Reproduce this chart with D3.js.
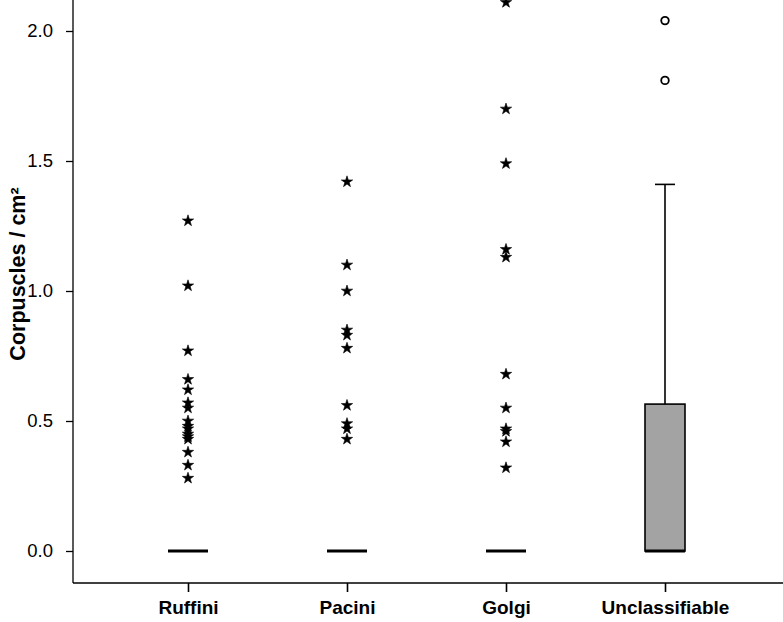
<!DOCTYPE html>
<html><head><meta charset="utf-8">
<script src="https://cdn.jsdelivr.net/npm/d3@7"></script>
<style>body{margin:0;background:#fff}svg{display:block}</style>
</head><body>
<script>
const categories = ["Ruffini", "Pacini", "Golgi", "Unclassifiable"];
// box statistics
const q1Values = [0, 0, 0, 0];
const medianValues = [0, 0, 0, 0];
const q3Values = [0, 0, 0, 0.565];
const whiskerLow = [0, 0, 0, 0];
const whiskerHigh = [0, 0, 0, 1.41];
// extreme outliers (stars)
const ruffiniExtremes = [1.27, 1.02, 0.77, 0.66, 0.62, 0.57, 0.55, 0.50, 0.48, 0.47, 0.45, 0.44, 0.43, 0.38, 0.33, 0.28];
const paciniExtremes = [1.42, 1.10, 1.00, 0.85, 0.83, 0.78, 0.56, 0.49, 0.47, 0.43];
const golgiExtremes = [2.11, 1.70, 1.49, 1.16, 1.13, 0.68, 0.55, 0.47, 0.46, 0.42, 0.32];
const unclassExtremes = [];
// mild outliers (circles)
const unclassOutliers = [2.04, 1.81];
const yTicks = [0, 0.5, 1.0, 1.5, 2.0];

const W = 783, H = 622;
const FONT = "Arial, 'Liberation Sans', sans-serif";
const svg = d3.select("body").append("svg").attr("width", W).attr("height", H);

const axisLeftX = 73, axisBottomY = 583;
const y = d3.scaleLinear().domain([0, 2]).range([551, 31]);
const x = d3.scalePoint().domain(categories).range([188, 665]);

// y axis
const yAxis = svg.append("g").attr("transform", `translate(${axisLeftX},0)`)
  .call(d3.axisLeft(y).tickValues(yTicks).tickFormat(d3.format(".1f")).tickSize(7).tickSizeOuter(0));
yAxis.select(".domain").remove();
yAxis.selectAll("line").attr("stroke", "#000").attr("stroke-width", 1.3);
yAxis.selectAll("text").attr("font-family", FONT).attr("font-size", 18.5).attr("fill", "#000").attr("x", -20);
svg.append("line").attr("x1", axisLeftX).attr("x2", axisLeftX).attr("y1", 0).attr("y2", axisBottomY).attr("stroke", "#000").attr("stroke-width", 1.3);

// x axis
const xAxis = svg.append("g").attr("transform", `translate(0,${axisBottomY})`)
  .call(d3.axisBottom(x).tickSize(9).tickSizeOuter(0));
xAxis.select(".domain").remove();
xAxis.selectAll("line").attr("stroke", "#000").attr("stroke-width", 1.6);
xAxis.selectAll("text").attr("font-family", FONT).attr("font-size", 19).attr("font-weight", "bold").attr("fill", "#000").attr("y", 18);
svg.append("line").attr("x1", axisLeftX).attr("x2", W).attr("y1", axisBottomY).attr("y2", axisBottomY).attr("stroke", "#000").attr("stroke-width", 1.3);

// y label
svg.append("text").attr("transform", "translate(25,274) rotate(-90)")
  .attr("text-anchor", "middle").attr("font-family", FONT)
  .attr("font-size", 21.5).attr("font-weight", "bold").attr("fill", "#000")
  .text("Corpuscles / cm²");

const boxW = 40;
categories.forEach((c, i) => {
  const cx = x(c);
  const g = svg.append("g");
  if (whiskerHigh[i] > q3Values[i]) {
    g.append("line").attr("x1", cx).attr("x2", cx).attr("y1", y(q3Values[i])).attr("y2", y(whiskerHigh[i])).attr("stroke", "#000").attr("stroke-width", 1.6);
    g.append("line").attr("x1", cx - boxW / 4).attr("x2", cx + boxW / 4).attr("y1", y(whiskerHigh[i])).attr("y2", y(whiskerHigh[i])).attr("stroke", "#000").attr("stroke-width", 1.6);
  }
  if (q3Values[i] > q1Values[i]) {
    g.append("rect").attr("x", cx - boxW / 2).attr("y", y(q3Values[i])).attr("width", boxW).attr("height", y(q1Values[i]) - y(q3Values[i]))
      .attr("fill", "#a3a3a3").attr("stroke", "#000").attr("stroke-width", 1.6);
  }
  g.append("line").attr("x1", cx - boxW / 2).attr("x2", cx + boxW / 2).attr("y1", y(medianValues[i])).attr("y2", y(medianValues[i]))
    .attr("stroke", "#000").attr("stroke-width", 3);
});

const star = d3.symbol().type(d3.symbolStar).size(40);
const extremes = [ruffiniExtremes, paciniExtremes, golgiExtremes, unclassExtremes];
extremes.forEach((arr, i) => {
  svg.append("g").selectAll("path").data(arr).join("path")
    .attr("d", star).attr("transform", d => `translate(${x(categories[i])},${y(d)})`)
    .attr("fill", "#000").attr("stroke", "#000").attr("stroke-width", 0.6);
});
svg.append("g").selectAll("circle").data(unclassOutliers).join("circle")
  .attr("cx", x("Unclassifiable")).attr("cy", d => y(d)).attr("r", 3.8)
  .attr("fill", "#fff").attr("stroke", "#000").attr("stroke-width", 1.8);
</script>
</body></html>
